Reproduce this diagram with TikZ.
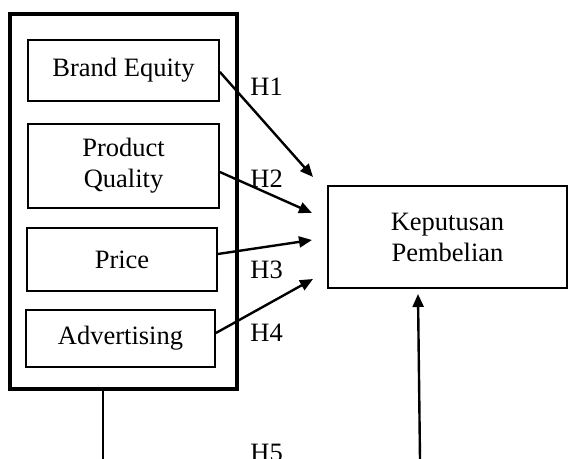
\documentclass[tikz,border=0pt]{standalone}
\usepackage{fontspec}
\setmainfont{Liberation Serif}
\usetikzlibrary{arrows.meta}
\begin{document}
\begin{tikzpicture}[x=0.5pt,y=-0.5pt,
  every node/.style={font=\fontsize{13.25}{15.5}\selectfont},
  varbox/.style={draw, line width=0.9pt, align=center, inner sep=0pt, minimum width=95.5pt},
  outerbox/.style={draw, line width=2pt, inner sep=0pt, minimum width=113.5pt, minimum height=187.5pt},
  depbox/.style={draw, line width=1pt, align=center, inner sep=0pt, minimum width=119.5pt, minimum height=51pt},
  hyp/.style={-{Triangle[length=6.5pt,width=5.5pt]}, line width=1.2pt},
  plainline/.style={line width=1pt},
  hlabel/.style={anchor=base west, inner sep=0pt}]
\useasboundingbox (0,0) rectangle (568,459);
\clip (0,0) rectangle (568,459);
\node[outerbox] (outer) at (123.5,201.5) {};
\node[varbox, minimum height=30.5pt] (be) at (123.5,70.5) {Brand Equity};
\node[varbox, minimum height=42pt] (pq) at (123.5,166) {Product\\Quality};
\node[varbox, minimum width=95pt, minimum height=31.5pt] (pr) at (122,259.5) {Price};
\node[varbox, minimum width=94.5pt, minimum height=28.5pt] (ad) at (120.5,338.5) {Advertising};
\node[depbox] (kp) at (447.5,237) {Keputusan\\Pembelian};
\coordinate (t1) at (313,177);
\coordinate (t2) at (312,213);
\coordinate (t3) at (312,240);
\coordinate (t4) at (313,279);
\coordinate (lb) at (103,459);
\coordinate (rb) at (420,459);
\draw[hyp] ([yshift=-0.75pt]be.east) -- (t1);
\draw[hyp] ([yshift=-3pt]pq.east) -- (t2);
\draw[hyp] ([yshift=2.75pt]pr.east) -- (t3);
\draw[hyp] ([yshift=2.75pt]ad.east) -- (t4);
\draw[plainline] (outer.south -| lb) -- (lb);
\draw[hyp] (rb) -- ([xshift=-1pt,yshift=-2.5pt]kp.south -| rb);
\node[hlabel] (h1) at (250,96) {H1};
\node[hlabel] (h2) at (250,188) {H2};
\node[hlabel] (h3) at (250,279) {H3};
\node[hlabel] (h4) at (250,342) {H4};
\node[hlabel] (h5) at (250,462) {H5};
\end{tikzpicture}
\end{document}
